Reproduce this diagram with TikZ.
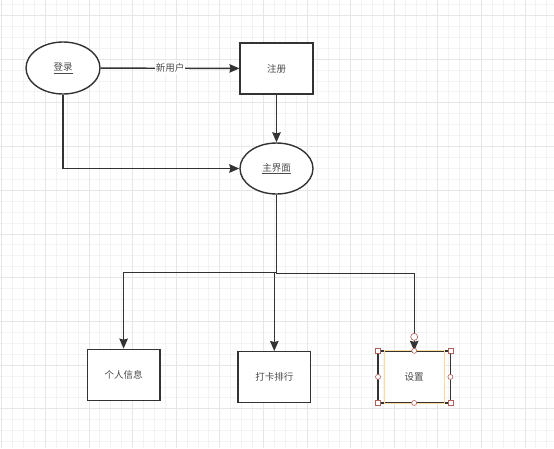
\documentclass[tikz,border=0pt]{standalone}
\usepackage{fontspec}
\newfontfamily\cjk{Noto Sans CJK SC}
\usetikzlibrary{shapes.geometric,arrows.meta}
\definecolor{gridminor}{HTML}{F3F3F3}
\definecolor{gridmajor}{HTML}{E6E6E6}
\definecolor{ln}{HTML}{333333}
\definecolor{txt}{HTML}{4A4A4A}
\definecolor{hand}{HTML}{B0605A}
\definecolor{sel}{HTML}{FFDA9E}
\begin{document}
\begin{tikzpicture}[x=1pt,y=-1pt,
  every node/.style={font=\cjk\fontsize{9.5}{11}\selectfont, text=txt},
  oval/.style={ellipse, draw=ln, line width=1.4pt, fill=white, minimum width=74pt, minimum height=52pt, inner sep=0pt},
  box/.style={rectangle, draw=ln, line width=1.4pt, fill=white, minimum width=72.7pt, minimum height=51pt, inner sep=0pt},
  arr/.style={draw=ln, line width=1.4pt, -{Stealth[length=10pt,width=8.5pt,inset=1pt]}},
  lbl/.style={fill=white, inner sep=1pt},
  handsq/.style={rectangle, draw=hand, fill=white, line width=0.6pt, minimum size=5pt, inner sep=0pt},
  handci/.style={circle, draw=hand, fill=white, line width=0.6pt, minimum size=5pt, inner sep=0pt}]
\fill[white] (0,0) rectangle (554,448);
\useasboundingbox (0,0) rectangle (554,448);
% grid
\foreach \i [evaluate=\i as \xx using 1.7+10.9*\i] in {0,...,50}
  {\draw[gridminor, line width=0.8pt] (\xx,0) -- (\xx,448);}
\foreach \i [evaluate=\i as \yy using 4.4+10.93*\i] in {0,...,40}
  {\draw[gridminor, line width=0.8pt] (0,\yy) -- (554,\yy);}
\foreach \i [evaluate=\i as \xx using 1.7+43.6*\i] in {0,...,12}
  {\draw[gridmajor, line width=0.8pt] (\xx,0) -- (\xx,448);}
\foreach \i [evaluate=\i as \yy using 15.3+43.72*\i] in {0,...,9}
  {\draw[gridmajor, line width=0.8pt] (0,\yy) -- (554,\yy);}
% nodes
\node[oval] (login) at (63,68) {\underline{登录}};
\node[box] (reg) at (276.5,68.5) {注册};
\node[oval, minimum width=73pt, minimum height=51pt] (main) at (276.5,168.5) {\underline{主界面}};
\node[box] (info) at (123.6,374.8) {个人信息};
\node[box] (rank) at (274.3,377.2) {打卡排行};
\node[rectangle, minimum width=60pt, minimum height=51.7pt, inner sep=0pt, fill=white] (set) at (414.2,376.9) {};
\draw[ln, line width=1.4pt] ([xshift=-6pt]set.north west) rectangle ([xshift=6pt]set.south east);
\draw[sel, line width=0.8pt] (set.north west) rectangle (set.south east);
\node at (set) {设置};
% connectors
\draw[arr] (login) -- node[lbl] {新用户} (reg);
\draw[arr] (login.south) |- (main.west);
\draw[arr] (reg) -- (main);
\draw[arr] (main.south) -- ++(0,77.5) -| (info.north);
\draw[arr] (main.south) -- ++(0,78) -| (rank.north);
\draw[arr] (main.south) -- ++(0,78.5) -| (set.north);
% selection handles
\node[handsq] at ([xshift=-6pt]set.north west) {};
\node[handsq] at ([xshift=6pt]set.north east) {};
\node[handsq] at ([xshift=-6pt]set.south west) {};
\node[handsq] at ([xshift=6pt]set.south east) {};
\node[handci] at (set.north) {};
\node[handci] at (set.south) {};
\node[handci] at ([xshift=-6pt]set.west) {};
\node[handci] at ([xshift=6pt]set.east) {};
\node[handci, minimum size=7pt] at ([yshift=14pt]set.north) {};
\end{tikzpicture}
\end{document}
